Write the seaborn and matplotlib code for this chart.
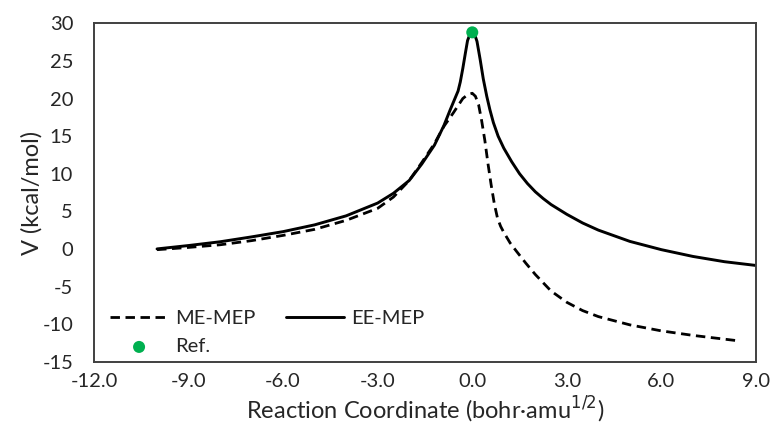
import numpy as np
import pandas as pd
import matplotlib
matplotlib.use("Agg")
import matplotlib.pyplot as plt
import seaborn as sns

# Data
x_ee = [-10.0, -9.0, -8.0, -7.0, -6.0, -5.0, -4.0, -3.0, -2.5, -2.0, -1.6, -1.2, -0.9, -0.7,
        -0.55, -0.45, -0.38, -0.3, -0.22, -0.15, -0.07, 0.0, 0.07, 0.15, 0.25, 0.35, 0.46,
        0.56, 0.67, 0.82, 1.0, 1.25, 1.5, 1.75, 2.0, 2.25, 2.5, 3.0, 3.5, 4.0, 5.0, 6.0,
        7.0, 8.0, 9.0]
y_ee = [0.0, 0.45, 0.95, 1.6, 2.3, 3.2, 4.4, 6.1, 7.4, 9.1, 11.3, 13.8, 16.4, 18.5,
        20.0, 21.0, 22.2, 24.0, 26.0, 27.7, 28.6, 28.9, 28.6, 27.6, 25.2, 22.6, 20.3,
        18.5, 16.8, 15.0, 13.4, 11.6, 10.0, 8.7, 7.6, 6.7, 5.9, 4.6, 3.45, 2.5, 1.0, -0.1,
        -1.0, -1.7, -2.2]

x_me = [-10.0, -9.0, -8.0, -7.0, -6.0, -5.0, -4.0, -3.0, -2.5, -2.0, -1.6, -1.2, -0.9, -0.6,
        -0.3, -0.15, 0.0, 0.1, 0.2, 0.3, 0.4, 0.5, 0.6, 0.7, 0.8, 0.9, 1.0, 1.2, 1.4, 1.7,
        2.0, 2.5, 3.0, 3.5, 4.0, 5.0, 6.0, 7.0, 8.0, 8.4]
y_me = [-0.1, 0.2, 0.55, 1.1, 1.8, 2.6, 3.8, 5.4, 6.9, 9.1, 11.5, 14.0, 16.3, 18.1,
        20.0, 20.5, 20.7, 20.3, 19.2, 17.0, 14.4, 11.3, 8.5, 6.0, 4.1, 3.0, 2.2, 0.8, -0.3,
        -1.9, -3.4, -5.6, -7.1, -8.2, -9.0, -10.1, -10.9, -11.5, -12.0, -12.2]

x_ref = [0.0]
y_ref = [28.8]

x_ticks = [-12.0, -9.0, -6.0, -3.0, 0.0, 3.0, 6.0, 9.0]
y_ticks = [-15, -10, -5, 0, 5, 10, 15, 20, 25, 30]

sns.set_style("white")
plt.rcParams['font.family'] = ['Lato', 'DejaVu Sans']
text_color = '#262626'

fig = plt.figure(figsize=(7.76, 4.32), dpi=100)
ax = fig.add_axes([0.1211, 0.1627, 0.8531, 0.7833])

sns.lineplot(x=x_me, y=y_me, ax=ax, color='black', linewidth=2.0,
             linestyle=(0, (3.4, 2.0)), sort=False, label='ME-MEP')
sns.scatterplot(x=x_ref, y=y_ref, ax=ax, color='#00B050', s=75,
                edgecolor='none', zorder=5, label='Ref.')
sns.lineplot(x=x_ee, y=y_ee, ax=ax, color='black', linewidth=2.1,
             sort=False, label='EE-MEP')

ax.set_xlim(-12, 9)
ax.set_ylim(-15, 30)
ax.set_xticks(x_ticks)
ax.set_xticklabels([f"{t:.1f}" for t in x_ticks])
ax.set_yticks(y_ticks)
ax.set_yticklabels([str(t) for t in y_ticks])
ax.tick_params(direction='in', length=6, width=1.3, colors='#404040',
               labelcolor=text_color, labelsize=14.5)
ax.tick_params(axis='x', pad=8)
ax.tick_params(axis='y', pad=15)
for sp in ax.spines.values():
    sp.set_visible(True)
    sp.set_color('#404040')
    sp.set_linewidth(1.4)

ax.set_xlabel('Reaction Coordinate (bohr·amu$^{1/2}$)', fontsize=17, color=text_color, labelpad=4)
ax.set_ylabel('V (kcal/mol)', fontsize=17, color=text_color, labelpad=0)

ax.legend(ncol=2, loc='upper left', bbox_to_anchor=(0.024, 0.153), frameon=False,
          fontsize=14.5, borderpad=0, borderaxespad=0, handlelength=2.9,
          handletextpad=0.35, columnspacing=1.5, labelspacing=0.55,
          labelcolor=text_color)

fig.savefig('out.png', dpi=100)
